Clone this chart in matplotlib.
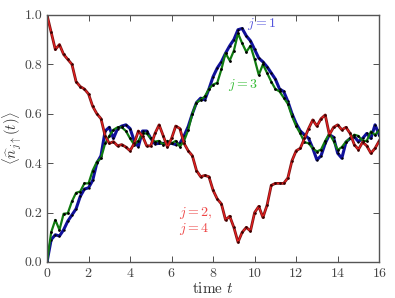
import numpy as np
import matplotlib
matplotlib.use("Agg")
import matplotlib.pyplot as plt
from matplotlib import rcParams

rcParams['font.family'] = 'cmr10'
rcParams['mathtext.fontset'] = 'cm'
rcParams['axes.formatter.use_mathtext'] = True
rcParams['font.size'] = 10

# time grid and occupations
t = np.arange(0, 16.01, 0.2)

n_j1 = [0.0, 0.09, 0.11, 0.105, 0.13, 0.165, 0.19, 0.215, 0.265, 0.295,
        0.30, 0.33, 0.40, 0.43, 0.53, 0.545, 0.50, 0.54, 0.55, 0.555,
        0.54, 0.49, 0.467, 0.53, 0.53, 0.50, 0.478, 0.48, 0.48, 0.478,
        0.48, 0.475, 0.48, 0.51, 0.548, 0.60, 0.645, 0.663, 0.656, 0.70,
        0.75, 0.785, 0.81, 0.845, 0.875, 0.90, 0.94, 0.945, 0.915, 0.895,
        0.86, 0.825, 0.81, 0.79, 0.765, 0.74, 0.70, 0.69, 0.65, 0.60,
        0.56, 0.53, 0.515, 0.50, 0.46, 0.413, 0.43, 0.48, 0.515, 0.505,
        0.44, 0.42, 0.485, 0.50, 0.507, 0.487, 0.50, 0.52, 0.50, 0.555,
        0.514]

n_j3 = [0.0, 0.12, 0.17, 0.13, 0.195, 0.197, 0.245, 0.28, 0.285, 0.318,
        0.318, 0.37, 0.405, 0.42, 0.48, 0.51, 0.535, 0.545, 0.545, 0.53,
        0.50, 0.475, 0.49, 0.52, 0.52, 0.50, 0.487, 0.49, 0.475, 0.49,
        0.48, 0.49, 0.467, 0.49, 0.534, 0.60, 0.645, 0.656, 0.67, 0.70,
        0.718, 0.725, 0.78, 0.845, 0.815, 0.855, 0.925, 0.885, 0.85, 0.875,
        0.82, 0.757, 0.80, 0.765, 0.73, 0.70, 0.69, 0.665, 0.64, 0.59,
        0.55, 0.52, 0.485, 0.48, 0.46, 0.447, 0.455, 0.49, 0.52, 0.49,
        0.453, 0.465, 0.487, 0.50, 0.515, 0.51, 0.49, 0.49, 0.528, 0.514,
        0.534]

n_j2 = [1.0, 0.93, 0.86, 0.88, 0.84, 0.82, 0.80, 0.73, 0.71, 0.70,
        0.68, 0.63, 0.60, 0.58, 0.51, 0.48, 0.487, 0.47, 0.475, 0.465,
        0.45, 0.48, 0.53, 0.51, 0.47, 0.47, 0.52, 0.555, 0.51, 0.465,
        0.50, 0.55, 0.54, 0.48, 0.45, 0.43, 0.37, 0.345, 0.35, 0.345,
        0.29, 0.255, 0.235, 0.17, 0.185, 0.14, 0.08, 0.12, 0.14, 0.125,
        0.20, 0.225, 0.18, 0.23, 0.31, 0.318, 0.318, 0.318, 0.34, 0.41,
        0.45, 0.46, 0.50, 0.54, 0.575, 0.55, 0.58, 0.595, 0.515, 0.545,
        0.555, 0.535, 0.545, 0.52, 0.475, 0.455, 0.485, 0.47, 0.44, 0.46,
        0.49]

fig = plt.figure(figsize=(3.95, 2.98), dpi=100)
ax = fig.add_axes([0.119, 0.121, 0.841, 0.829])

# j=1 blue, j=3 green, j=2 / j=4 red
ax.plot(t, n_j1, color='#10109a', lw=2.2, solid_joinstyle='round')
ax.plot(t, n_j1, 'k.', ms=1.4)
ax.plot(t, n_j3, color='#107a10', lw=1.6, solid_joinstyle='round')
ax.plot(t, n_j3, 'k.', ms=2.0)
ax.plot(t, n_j2, color='#801515', lw=2.0, solid_joinstyle='round')
ax.plot(t, n_j2, color='#ee2020', lw=0.8)
ax.plot(t, n_j2, '.', color='#3a0000', ms=1.8)

ax.text(10.35, 0.965, r'$j=1$', color='#5555dd', ha='center', va='center', fontsize=10)
ax.text(9.45, 0.715, r'$j=3$', color='#33bb33', ha='center', va='center', fontsize=10)
ax.text(6.35, 0.20, r'$j=2,$', color='#ee4444', ha='left', va='center', fontsize=10)
ax.text(6.35, 0.135, r'$j=4$', color='#ee4444', ha='left', va='center', fontsize=10)

ax.set_xlim(0, 16)
ax.set_ylim(0, 1.0)
ax.set_xticks(np.arange(0, 17, 2))
ax.set_yticks(np.arange(0, 1.01, 0.2))
ax.set_yticklabels(['0.0', '0.2', '0.4', '0.6', '0.8', '1.0'])
ax.tick_params(direction='in', top=True, right=True, length=4, width=0.6,
               labelsize=10, colors='#333333', labelcolor='#444444')
for s in ax.spines.values():
    s.set_color('#555555')
    s.set_linewidth(1.0)

ax.set_xlabel(r'time $t$', fontsize=11, labelpad=1, color='#333333')
ax.set_ylabel(r'$\langle \widehat{n}_{j\uparrow}(t)\rangle$', fontsize=10.5,
              color='#333333')
ax.yaxis.set_label_coords(-0.068, 0.5)

fig.savefig('out.png', dpi=100)
